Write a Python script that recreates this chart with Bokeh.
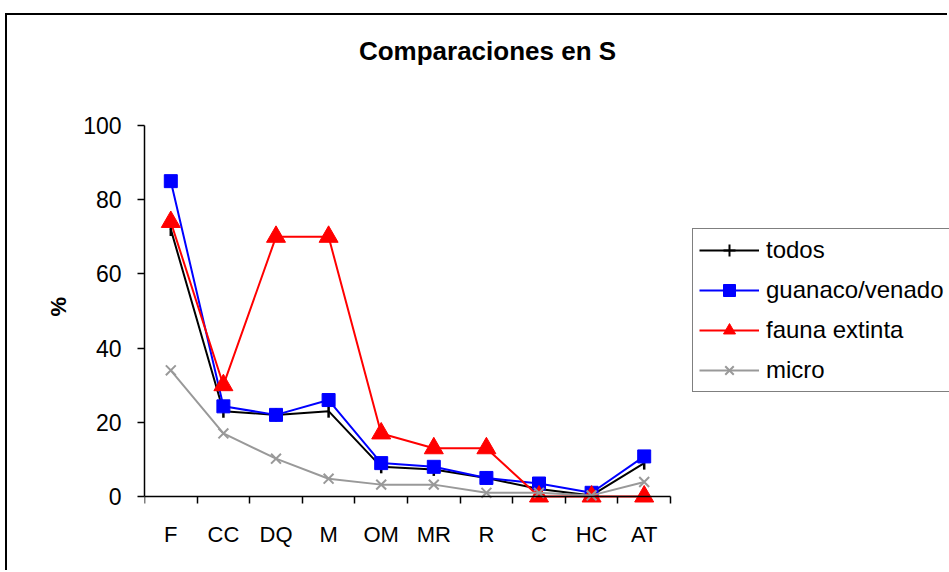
import numpy as np
from bokeh.plotting import figure
from bokeh.models import (Range1d, FixedTicker, Legend, LegendItem, Label,
                          ColumnDataSource, Title, CDSView, IndexFilter)
from bokeh.embed import file_html
from bokeh.resources import INLINE

categories = ["F", "CC", "DQ", "M", "OM", "MR", "R", "C", "HC", "AT"]
todos = [72, 23, 22, 23, 8, 7.3, 5, 2, 0.3, 9]
guanaco_venado = [85, 24.3, 22, 26, 9, 8, 5, 3.5, 1, 10.8]
fauna_extinta = [74, 30, 70, 70, 17, 13, 13, 0, 0, 0]
micro = [34, 17, 10.2, 4.8, 3.2, 3.2, 1, 1, 0.3, 3.9]
y_ticks = [0, 20, 40, 60, 80, 100]
y_max = 100

FONT = "Liberation Sans"
n = len(categories)
xs = [i + 0.5 for i in range(n)]

# canvas 942x557 placed at (7, 15) in the page; plot frame spans
# x 144..949 and y 15..572; axes cover x 144..670 and y 125..496
frame_w, axis_w = 805, 526
above_h, below_h, axis_h = 481, 76, 371

p = figure(width=942, height=557, output_backend="svg", toolbar_location=None,
           x_range=Range1d(0, n * frame_w / axis_w),
           y_range=Range1d(-y_max * below_h / axis_h, y_max * above_h / axis_h),
           min_border_left=137, min_border_right=0, min_border_top=0,
           min_border_bottom=0)
p.styles = {"margin-left": "5px", "margin-top": "13px",
            "border-left": "2px solid black", "border-top": "2px solid black"}
p.outline_line_color = None
p.grid.visible = False
p.background_fill_color = "white"
p.border_fill_color = "white"

# x axis drawn at y = 0 inside the frame so markers at 0 are not clipped
p.xaxis.fixed_location = 0
p.xaxis.bounds = (0, n)
p.xaxis.ticker = FixedTicker(ticks=xs, minor_ticks=list(range(n + 1)))
p.xaxis.major_label_overrides = {x: c for x, c in zip(xs, categories)}
p.xaxis.major_tick_out = 0
p.xaxis.major_tick_in = 0
p.xaxis.minor_tick_out = 7
p.xaxis.minor_tick_in = 0
p.xaxis.minor_tick_line_color = "black"
p.xaxis.minor_tick_line_width = 1.5
p.xaxis.axis_line_width = 1.5
p.xaxis.axis_line_color = "black"
p.xaxis.major_label_text_font = FONT
p.xaxis.major_label_text_font_size = "22px"
p.xaxis.major_label_text_color = "black"
p.xaxis.major_label_standoff = 18

# y axis
p.yaxis.bounds = (0, y_max)
p.yaxis.ticker = FixedTicker(ticks=y_ticks, minor_ticks=[])
p.yaxis.major_tick_out = 7
p.yaxis.major_tick_in = 0
p.yaxis.major_tick_line_width = 1.5
p.yaxis.major_tick_line_color = "black"
p.yaxis.axis_line_width = 1.5
p.yaxis.axis_line_color = "black"
p.yaxis.major_label_text_font = FONT
p.yaxis.major_label_text_font_size = "23px"
p.yaxis.major_label_text_color = "black"
p.yaxis.major_label_standoff = 16

# y axis title, centred on the 0..100 axis rather than the whole frame
ytitle = Title(text="%", text_font=FONT, text_font_size="22px",
               text_font_style="bold", text_color="black", align="left",
               offset=256, standoff=20)
p.add_layout(ytitle, "left")

# series
src1 = ColumnDataSource(dict(x=xs, y=todos, a=[np.pi / 2] * n))
l1 = p.line(xs, todos, line_color="black", line_width=2)
# legend swatch for "todos": a cross over the line reads as a vertical tick
# (its single plotted point is a 1px dot hidden under the first marker)
m1_key = p.scatter(xs, todos, marker="cross", size=1, line_color="black",
                   line_width=2, view=CDSView(filter=IndexFilter(indices=[0])))
m1 = p.scatter("x", "y", source=src1, marker="dash", angle="a", size=13,
               line_color="black", line_width=2.5)
l2 = p.line(xs, guanaco_venado, line_color="blue", line_width=2)
m2 = p.scatter(xs, guanaco_venado, marker="square", size=13,
               fill_color="blue", line_color="blue")
l3 = p.line(xs, fauna_extinta, line_color="red", line_width=2)
m3 = p.scatter(xs, fauna_extinta, marker="triangle", size=19,
               fill_color="red", line_color="red")
l4 = p.line(xs, micro, line_color="#999999", line_width=2)
m4 = p.scatter(xs, micro, marker="x", size=14, line_color="#999999",
               line_width=2)

legend = Legend(items=[
    LegendItem(label="todos", renderers=[l1, m1_key]),
    LegendItem(label="guanaco/venado", renderers=[l2, m2]),
    LegendItem(label="fauna extinta", renderers=[l3, m3]),
    LegendItem(label="micro", renderers=[l4, m4]),
], location=(548, 180))
legend.label_text_font = FONT
legend.label_text_font_size = "24px"
legend.label_text_color = "black"
legend.border_line_color = "black"
legend.border_line_width = 1.5
legend.background_fill_alpha = 1
legend.glyph_width = 60
legend.glyph_height = 30
legend.label_height = 30
legend.spacing = 10
legend.padding = 6
legend.margin = 0
legend.label_standoff = 7
p.add_layout(legend, "center")

title = Label(x=343, y=522, x_units="screen", y_units="screen",
              text="Comparaciones en S", text_font=FONT,
              text_font_size="26px", text_font_style="bold",
              text_align="center", text_baseline="middle",
              text_color="black")
p.add_layout(title)

open("out.html", "w").write(file_html(p, INLINE))
